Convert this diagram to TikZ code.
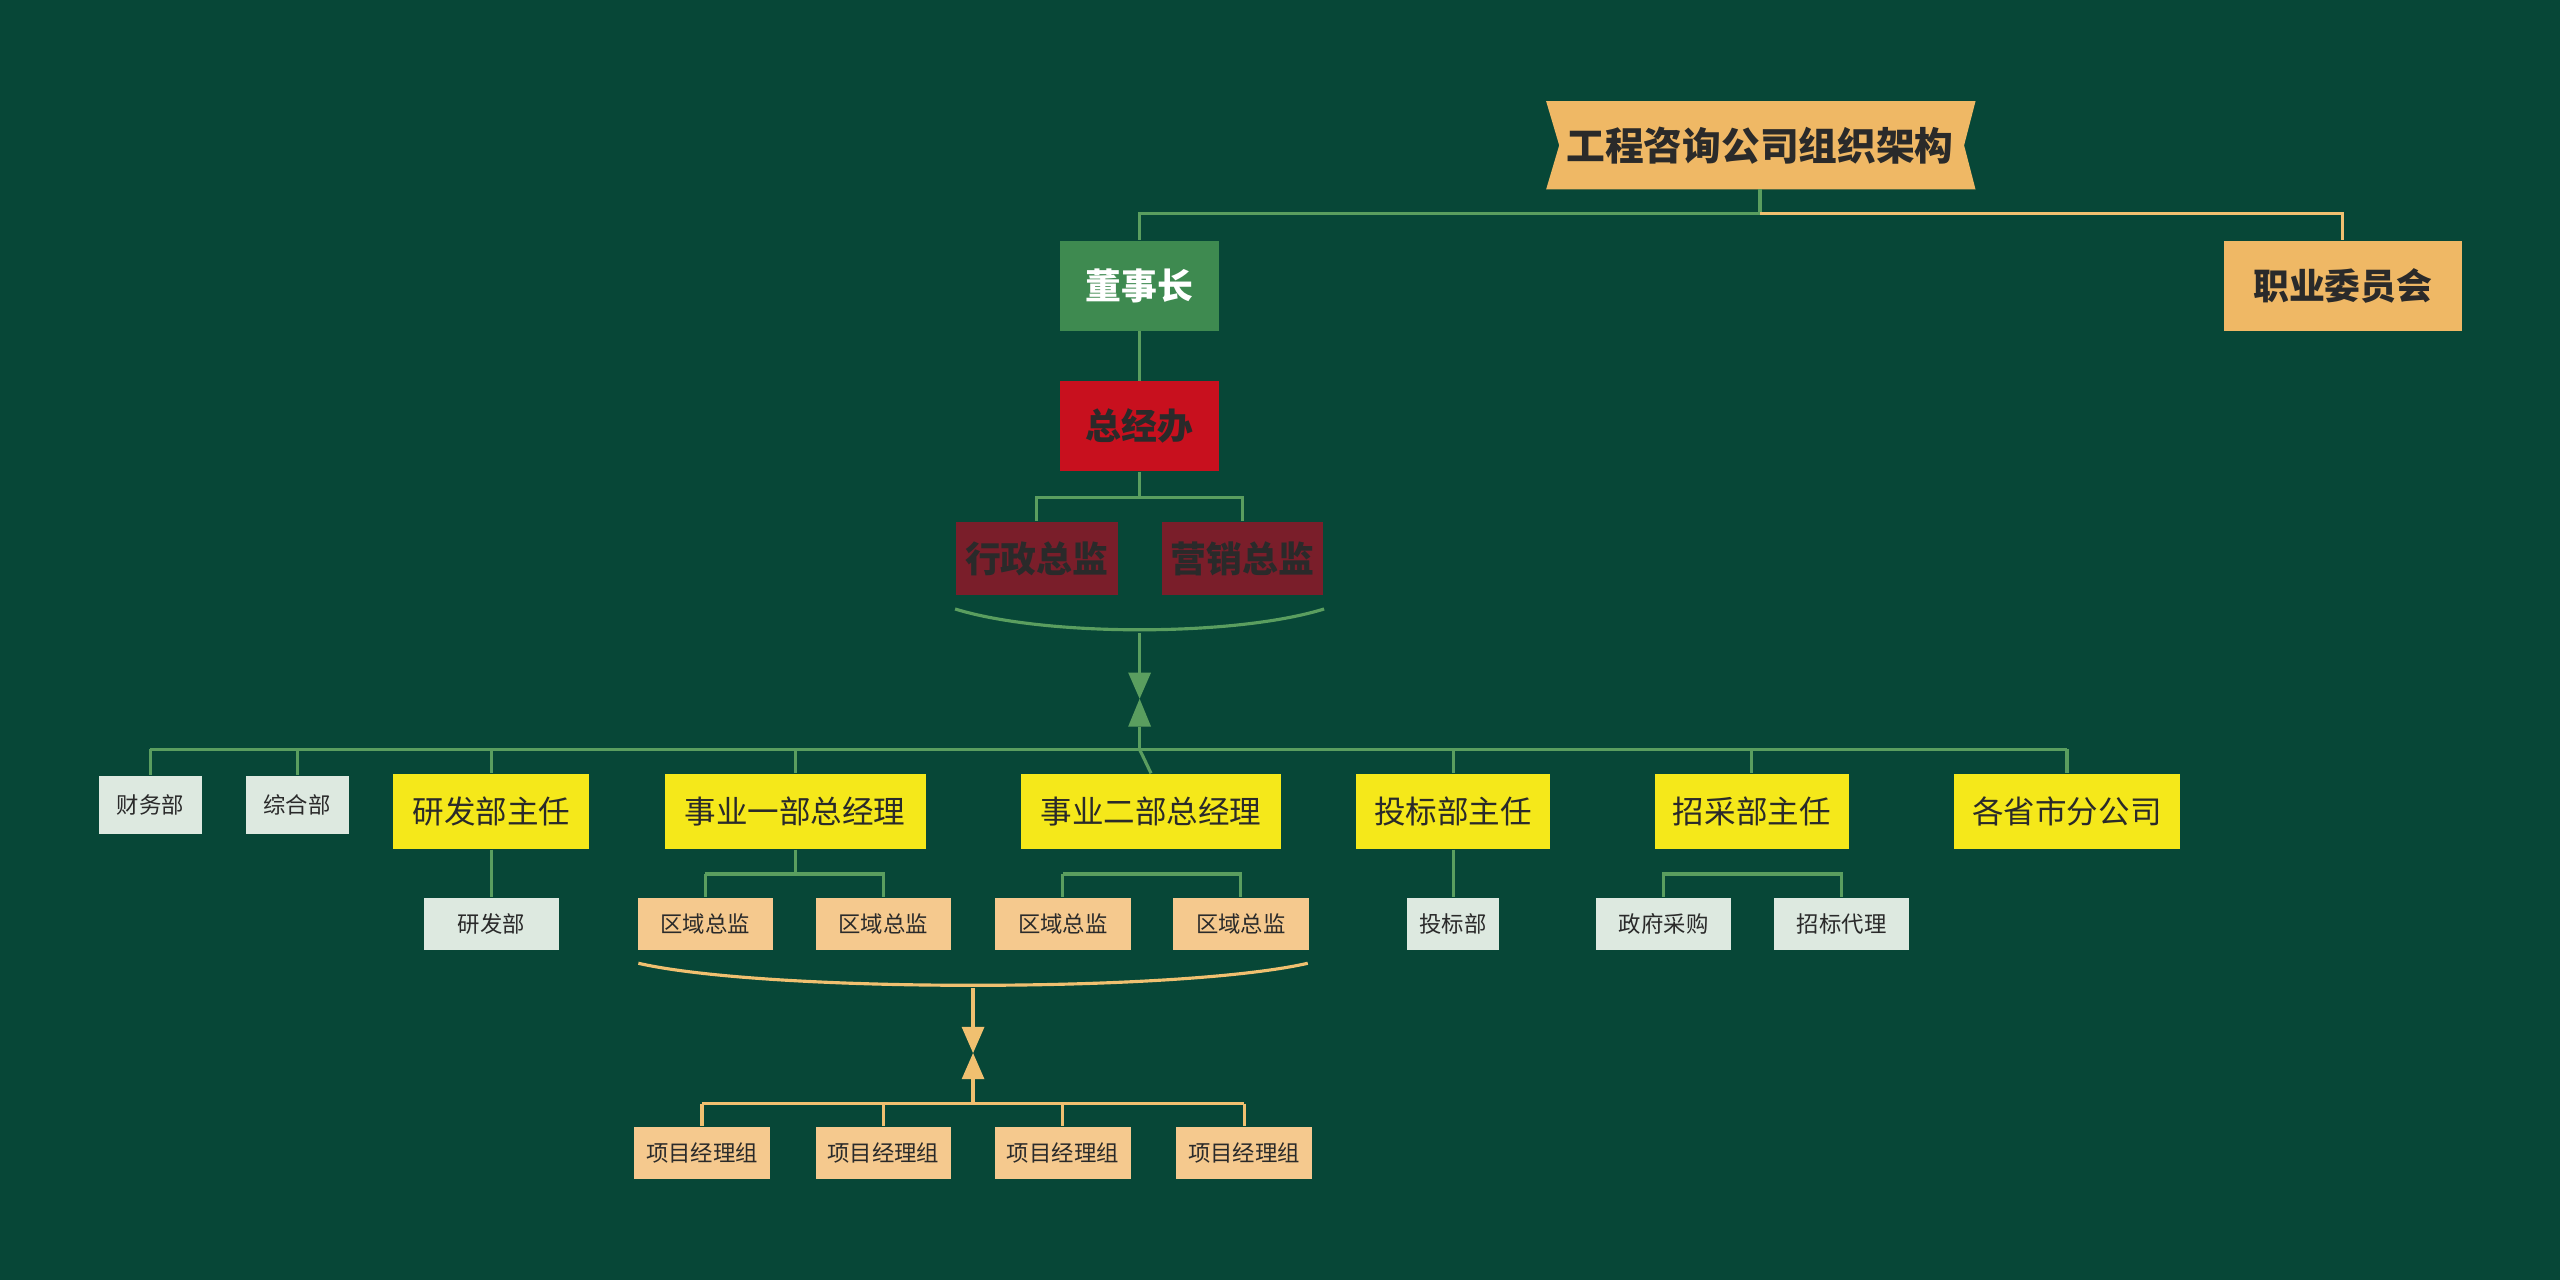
\documentclass[tikz,border=0pt]{standalone}
\usepackage{fontspec}
\setmainfont{Noto Sans CJK SC}
\usetikzlibrary{positioning}
\definecolor{bgc}{HTML}{074737}
\definecolor{gline}{HTML}{5A9E5F}
\definecolor{oline}{HTML}{F0C070}
\definecolor{gold}{HTML}{EFB865}
\definecolor{boss}{HTML}{3E8A50}
\definecolor{redc}{HTML}{C8101E}
\definecolor{wine}{HTML}{7A1E2A}
\definecolor{yel}{HTML}{F5E81A}
\definecolor{pale}{HTML}{DDE9E0}
\definecolor{peach}{HTML}{F5C98E}
\definecolor{ink}{HTML}{2A2A2A}
\begin{document}
\begin{tikzpicture}[x=0.02cm, y=-0.02cm]
		% Styles
		\tikzstyle{big} = [rectangle, text=ink, font=\fontsize{12.5}{14}\selectfont\bfseries,
		minimum width=1.94cm, minimum height=1.1cm, inner sep=0pt]
		\tikzstyle{mid} = [rectangle, fill=yel, text=ink, font=\fontsize{11}{12}\selectfont,
		minimum height=0.92cm, inner sep=0pt]
		\tikzstyle{small} = [rectangle, text=ink, font=\fontsize{7.8}{9}\selectfont,
		minimum height=0.64cm, inner sep=0pt]
		\tikzstyle{gl} = [draw=gline, line width=1.1pt]
		\tikzstyle{ol} = [draw=oline, line width=1.1pt]
		
		% Background
		\fill[bgc] (0,0) rectangle (1568,784);
		
		% Title
		\fill[gold] (947,62) -- (1210,62) -- (1203,89) -- (1210,116) -- (947,116) -- (955,89) -- cycle;
		\node [text=ink, font=\fontsize{13.5}{15}\selectfont\bfseries] (title) at (1078,89) {工程咨询公司组织架构};
		\coordinate (tb) at (1078,116);
		
		% Top nodes
		\node [big, fill=boss, text=white] (chair) at (698,175) {董事长};
		\node [big, fill=gold, minimum width=2.92cm] (comm) at (1435,175) {职业委员会};
		\node [big, fill=redc] (office) at (698,261) {总经办};
		\node [big, fill=wine, minimum width=1.98cm, minimum height=0.9cm] (admin) at (635,342) {行政总监};
		\node [big, fill=wine, minimum width=1.98cm, minimum height=0.9cm] (sales) at (761,342) {营销总监};
		
		% Departments
		\node [small, fill=pale, minimum width=1.26cm, minimum height=0.72cm] (fin) at (92,493) {财务部};
		\node [small, fill=pale, minimum width=1.26cm, minimum height=0.72cm] (gen) at (182,493) {综合部};
		\node [mid, minimum width=2.4cm] (rdhead) at (301,497) {研发部主任};
		\node [mid, minimum width=3.2cm] (biz1) at (487,497) {事业一部总经理};
		\node [mid, minimum width=3.18cm] (biz2) at (705,497) {事业二部总经理};
		\node [mid, minimum width=2.38cm] (bidhead) at (890,497) {投标部主任};
		\node [mid, minimum width=2.38cm] (buyhead) at (1073,497) {招采部主任};
		\node [mid, minimum width=2.78cm] (branch) at (1266,497) {各省市分公司};
		
		% Sub units
		\node [small, fill=pale, minimum width=1.66cm] (rd) at (301,566) {研发部};
		\node [small, fill=peach, minimum width=1.66cm] (reg1) at (432,566) {区域总监};
		\node [small, fill=peach, minimum width=1.66cm] (reg2) at (541,566) {区域总监};
		\node [small, fill=peach, minimum width=1.66cm] (reg3) at (651,566) {区域总监};
		\node [small, fill=peach, minimum width=1.66cm] (reg4) at (760,566) {区域总监};
		\node [small, fill=pale, minimum width=1.12cm] (bid) at (890,566) {投标部};
		\node [small, fill=pale, minimum width=1.66cm] (gov) at (1019,566) {政府采购};
		\node [small, fill=pale, minimum width=1.66cm] (agent) at (1128,566) {招标代理};
		\foreach \i/\x in {1/430, 2/541, 3/651, 4/762}
			\node [small, fill=peach, minimum width=1.66cm] (pm\i) at (\x,706) {项目经理组};
		
		% Connections
		\path [gl] (tb) -- ++(0,15) -| (chair.north);
		\path [ol] (tb) ++(0,15) -| (comm.north);
		\path [gl] (chair) -- (office);
		\path [gl] (office.south) -- ++(0,16) -| (admin.north);
		\path [gl] (office.south) ++(0,16) -| (sales.north);
		
		% Brace 1 and summary
		\path [gl] (585,373) .. controls (640,390) and (756,390) .. (811,373);
		\coordinate (h1) at (698,459);
		\path [gl] (698,388) -- (698,412);
		\fill [gline] (691,412) -- (705,412) -- (698,428) -- cycle;
		\fill [gline] (691,445) -- (705,445) -- (698,428) -- cycle;
		\path [gl] (698,445) -- (h1);
		\path [gl] (fin.north |- h1) -- (branch.north |- h1);
		\foreach \n in {fin, gen, rdhead, biz1, bidhead, buyhead, branch}
			\path [gl] (\n.north |- h1) -- (\n.north);
		\path [gl] (h1) -- (biz2.north);
		
		\path [gl] (rdhead) -- (rd);
		\path [gl] (biz1.south) ++(-55,15) -| (reg1.north);
		\path [gl] (biz1.south) ++(-55,15) -| (reg2.north);
		\path [gl] (biz1.south) -- ++(0,15);
		\path [gl] (biz2.south) ++(-54,15) -| (reg3.north);
		\path [gl] (biz2.south) ++(-54,15) -| (reg4.north);
		\path [gl] (bidhead) -- (bid);
		\path [gl] (buyhead.south) ++(-55,15) -| (gov.north);
		\path [gl] (buyhead.south) ++(-55,15) -| (agent.north);
		
		% Brace 2 and summary
		\path [ol] (391,590) .. controls (470,608) and (722,608) .. (801,590);
		\path [ol] (596,605) -- (596,629);
		\fill [oline] (589,629) -- (603,629) -- (596,645) -- cycle;
		\fill [oline] (589,661) -- (603,661) -- (596,645) -- cycle;
		\coordinate (h2) at (596,676);
		\path [ol] (596,661) -- (h2);
		\path [ol] (pm1.north |- h2) -- (pm4.north |- h2);
		\foreach \n in {pm1, pm2, pm3, pm4}
			\path [ol] (\n.north |- h2) -- (\n.north);
\end{tikzpicture}
\end{document}
